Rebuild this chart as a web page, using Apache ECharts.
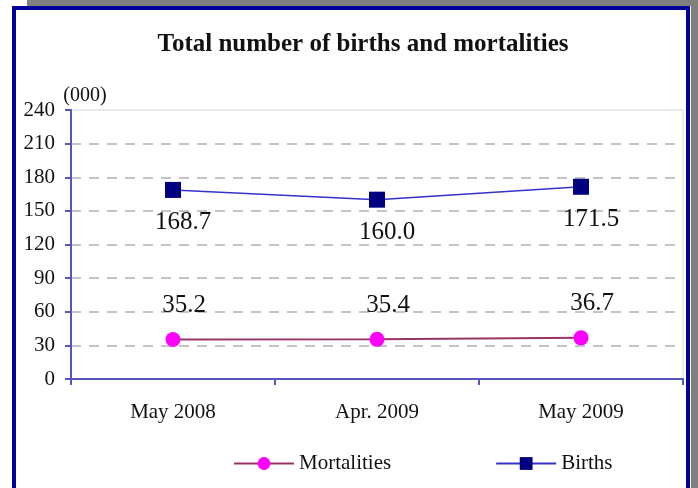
<!DOCTYPE html>
<html>
<head>
<meta charset="utf-8">
<script src="https://cdn.jsdelivr.net/npm/echarts@6/dist/echarts.min.js"></script>
<style>
  html, body { margin: 0; padding: 0; background: #fff; }
  #chart { width: 698px; height: 488px; }
</style>
</head>
<body>
<div id="chart"></div>
<script>
// data
const periods = ['May 2008', 'Apr. 2009', 'May 2009'];
const mortalities = [35.2, 35.4, 36.7];
const births = [168.7, 160.0, 171.5];

const serif = '"Liberation Serif", "DejaVu Serif", serif';

const chart = echarts.init(document.getElementById('chart'), null, { renderer: 'canvas' });

const option = {
  backgroundColor: '#fff',
  animation: false,
  // frame around the chart (decoration only)
  graphic: [
    { type: 'rect', shape: { x: 27, y: 0, width: 671, height: 6 }, style: { fill: '#808080' }, silent: true },
    { type: 'rect', shape: { x: 691, y: 6, width: 7, height: 482 }, style: { fill: '#808080' }, silent: true },
    { type: 'rect', shape: { x: 14, y: 8, width: 674, height: 490 },
      style: { fill: 'none', stroke: '#000099', lineWidth: 4 }, silent: true }
  ],
  title: {
    text: 'Total number of births and mortalities',
    left: 358,
    textAlign: 'center',
    top: 27,
    textStyle: { fontFamily: serif, fontSize: 25, fontWeight: 'bold', color: '#111' }
  },
  legend: {
    top: 448,
    left: 228,
    itemGap: 104,
    itemWidth: 60,
    itemHeight: 16,
    textStyle: { fontFamily: serif, fontSize: 21, color: '#111' },
    data: ['Mortalities', 'Births']
  },
  grid: {
    left: 71, right: 15, top: 110, bottom: 109,
    show: true, borderColor: '#d4d4d4', borderWidth: 1,
    containLabel: false
  },
  xAxis: {
    type: 'category',
    data: periods,
    boundaryGap: true,
    axisLine: { lineStyle: { color: '#5555bb', width: 2 } },
    axisTick: { show: true, length: 6, interval: 0, lineStyle: { color: '#5555bb', width: 2 } },
    axisLabel: { margin: 23, fontFamily: serif, fontSize: 21, color: '#111' },
    splitLine: { show: false }
  },
  yAxis: {
    type: 'value',
    min: 0, max: 240, interval: 30,
    name: '(000)',
    nameLocation: 'end',
    nameGap: 4,
    nameTextStyle: { fontFamily: serif, fontSize: 20, color: '#111', padding: [0, 0, 0, 28] },
    axisLine: { show: true, lineStyle: { color: '#5555bb', width: 2 } },
    axisTick: { show: true, length: 6, lineStyle: { color: '#5555bb', width: 2 } },
    axisLabel: { margin: 16, fontFamily: serif, fontSize: 21, color: '#111' },
    splitLine: { show: true, showMaxLine: false, lineStyle: { color: '#c4c4c4', type: [10, 8], width: 2 } }
  },
  series: [
    {
      name: 'Mortalities',
      type: 'line',
      data: mortalities,
      symbol: 'circle',
      symbolSize: 15,
      lineStyle: { color: '#993366', width: 2 },
      itemStyle: { color: '#ff00ff' },
      label: {
        show: true, position: 'top', distance: 14, offset: [11, 0],
        formatter: p => p.value.toFixed(1),
        fontFamily: serif, fontSize: 25, color: '#111'
      }
    },
    {
      name: 'Births',
      type: 'line',
      data: births,
      symbol: 'rect',
      symbolSize: 16,
      lineStyle: { color: '#3333cc', width: 1.5 },
      itemStyle: { color: '#000080' },
      label: {
        show: true, position: 'bottom', distance: 12, offset: [10, 0],
        formatter: p => p.value.toFixed(1),
        fontFamily: serif, fontSize: 25, color: '#111'
      }
    }
  ]
};

chart.setOption(option);
</script>
</body>
</html>
